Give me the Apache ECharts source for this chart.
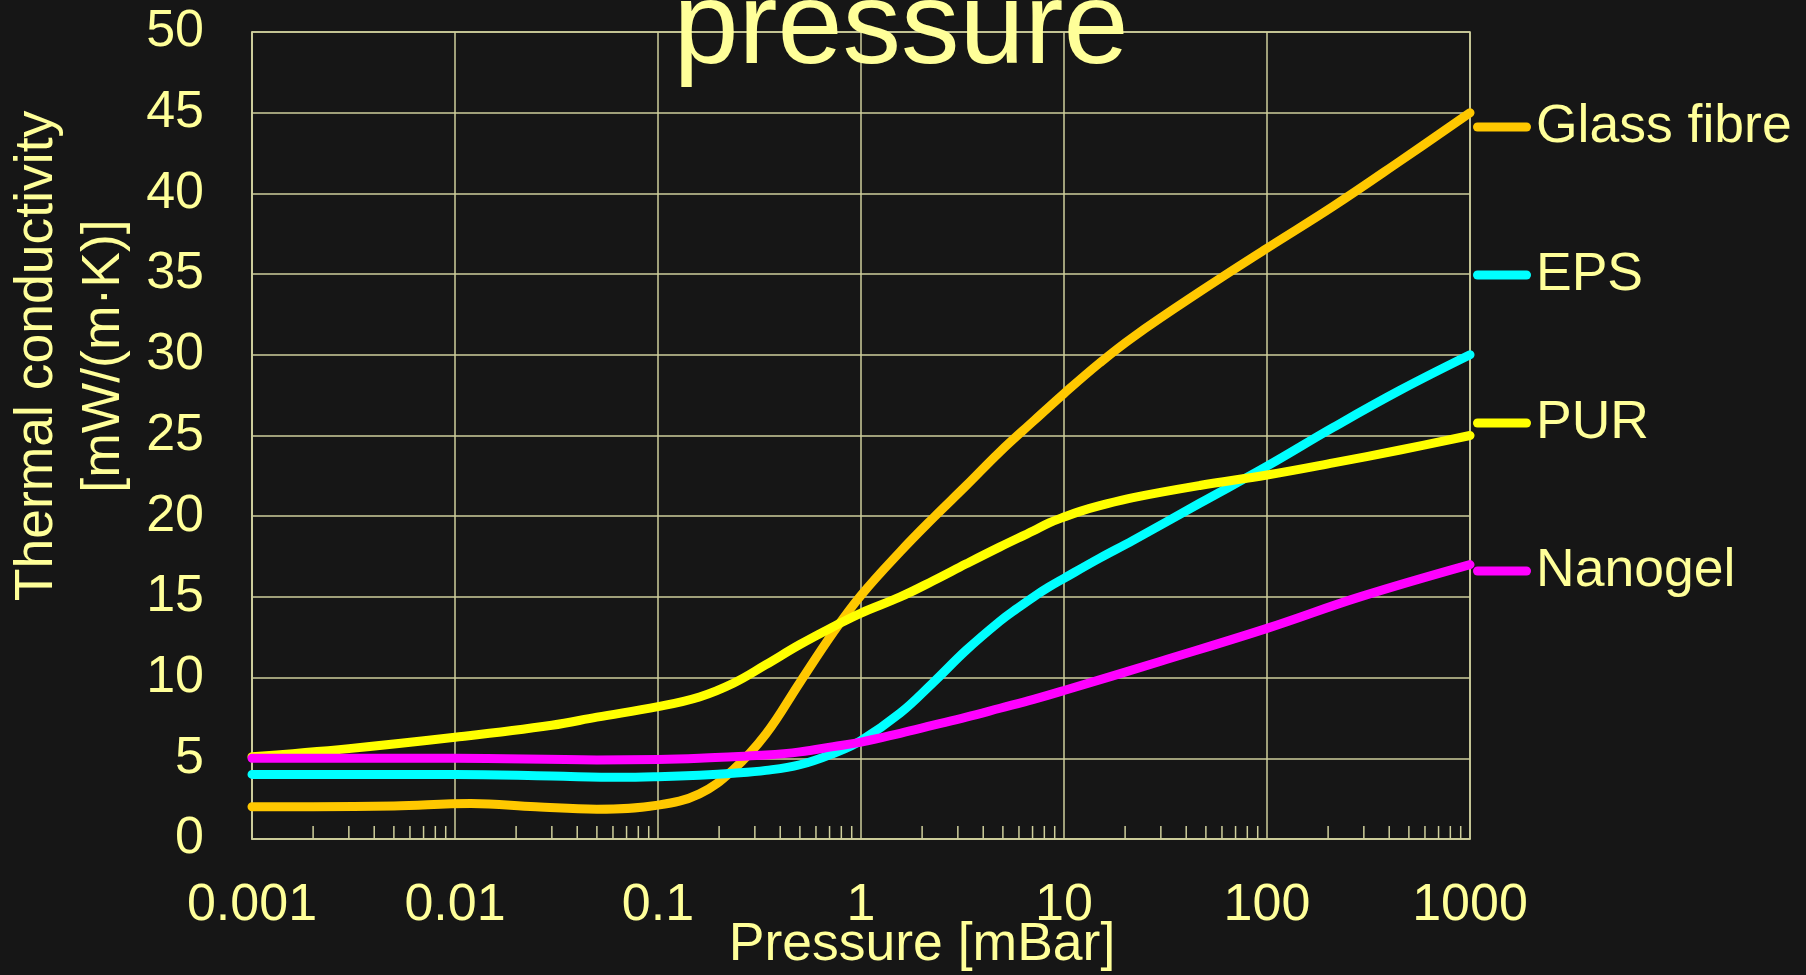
<!DOCTYPE html>
<html>
<head>
<meta charset="utf-8">
<script src="https://cdn.jsdelivr.net/npm/echarts@6/dist/echarts.min.js"></script>
<style>
html,body{margin:0;padding:0;background:#161616;}
#chart{width:1806px;height:975px;}
</style>
</head>
<body>
<div id="chart"></div>
<script>
// ---- data ----
const seriesNames = ['Glass fibre', 'EPS', 'PUR', 'Nanogel'];
const seriesColors = ['#ffc800', '#00ffff', '#ffff00', '#ff00ff'];

const glassP = [0.001, 0.002, 0.005, 0.012, 0.025, 0.05, 0.1, 0.16, 0.235, 0.34, 0.5, 0.73, 1, 1.56, 2.27, 3.3, 4.84, 7.08, 10, 15, 21.9, 46.6, 100, 212, 452, 1000];
const glassK = [2.0, 2.0, 2.05, 2.2, 2.0, 1.85, 2.1, 2.8, 4.3, 6.5, 9.7, 12.8, 15.1, 17.8, 19.9, 21.9, 24.0, 25.9, 27.6, 29.5, 31.1, 33.9, 36.6, 39.2, 42.0, 45.0];

const epsP = [0.001, 0.01, 0.03, 0.065, 0.1, 0.16, 0.235, 0.34, 0.5, 0.73, 1, 1.56, 2.27, 3.3, 4.84, 5.9, 7.08, 8.4, 10, 15, 21.9, 46.6, 100, 212, 452, 1000];
const epsK = [4.0, 4.0, 3.9, 3.82, 3.86, 3.95, 4.07, 4.25, 4.6, 5.3, 6.1, 7.8, 9.7, 11.7, 13.5, 14.3, 15.0, 15.6, 16.15, 17.4, 18.5, 20.8, 23.1, 25.5, 27.8, 30.0];

const purP = [0.001, 0.003, 0.01, 0.03, 0.05, 0.1, 0.16, 0.235, 0.34, 0.5, 0.73, 1, 1.56, 2.27, 3.3, 4.84, 7.08, 8.5, 10, 12, 15, 21.9, 46.6, 100, 212, 452, 1000];
const purK = [5.1, 5.6, 6.3, 7.05, 7.55, 8.2, 8.8, 9.65, 10.8, 12.05, 13.15, 14.0, 15.0, 16.0, 17.05, 18.1, 19.1, 19.6, 19.95, 20.3, 20.65, 21.15, 21.9, 22.55, 23.3, 24.1, 25.0];

const nanoP = [0.001, 0.01, 0.05, 0.1, 0.16, 0.235, 0.34, 0.5, 0.73, 1, 1.56, 2.27, 3.3, 4.84, 7.08, 10, 29.7, 100, 287, 1000];
const nanoK = [5.0, 5.0, 4.9, 4.93, 5.0, 5.1, 5.2, 5.4, 5.72, 6.0, 6.55, 7.05, 7.55, 8.1, 8.65, 9.2, 11.0, 13.05, 15.0, 17.0];

const xTickLabels = ['0.001', '0.01', '0.1', '1', '10', '100', '1000'];
const yTickLabels = ['0', '5', '10', '15', '20', '25', '30', '35', '40', '45', '50'];

const titleText = 'pressure';
const xAxisTitle = 'Pressure [mBar]';
const yAxisTitle = 'Thermal conductivity\n[mW/(m·K)]';

// ---- build ----
const pairs = [[glassP, glassK], [epsP, epsK], [purP, purK], [nanoP, nanoK]];
const TEXT = '#ffff99';
const GRIDC = '#cfcf9c';
const FONT = '"Liberation Sans", Arial, sans-serif';

// minor log ticks (2..9 within each decade)
const minorTicks = [];
for (let e = -3; e < 3; e++) {
  for (let k = 2; k <= 9; k++) minorTicks.push([k * Math.pow(10, e), 0]);
}

const lineSeries = seriesNames.map((name, i) => ({
  name: name,
  type: 'line',
  data: pairs[i][0].map((p, j) => [p, pairs[i][1][j]]),
  symbol: 'none',
  smooth: 0.4,
  lineStyle: { color: seriesColors[i], width: 9, cap: 'round', join: 'round' },
  itemStyle: { color: seriesColors[i] },
  z: 3 + i,
  silent: true
}));

const tickSeries = {
  type: 'custom',
  name: 'minorTicks',
  data: minorTicks,
  silent: true,
  z: 2,
  renderItem: function (params, api) {
    const pt = api.coord([api.value(0), api.value(1)]);
    return {
      type: 'line',
      shape: { x1: pt[0], y1: pt[1], x2: pt[0], y2: pt[1] - 13 },
      style: { stroke: GRIDC, lineWidth: 1.5 }
    };
  }
};

const chart = echarts.init(document.getElementById('chart'), null, { renderer: 'canvas' });
chart.setOption({
  backgroundColor: '#161616',
  animation: false,
  textStyle: { fontFamily: FONT },
  grid: {
    left: 252, right: 1806 - 1470, top: 32, bottom: 975 - 839,
    show: true, borderColor: GRIDC, borderWidth: 1.5, containLabel: false
  },
  legend: {
    data: seriesNames,
    orient: 'vertical',
    left: 1473,
    top: 100,
    padding: 0,
    itemGap: 94,
    itemWidth: 58,
    itemHeight: 9,
    icon: 'path://M4.5,0H53.5A4.5,4.5 0 0 1 53.5,9H4.5A4.5,4.5 0 0 1 4.5,0Z',
    selectedMode: false,
    textStyle: { color: TEXT, fontSize: 53.5, lineHeight: 52, fontFamily: FONT }
  },
  xAxis: {
    type: 'log',
    logBase: 10,
    min: 0.001,
    max: 1000,
    interval: 1,
    axisLine: { show: true, lineStyle: { color: GRIDC, width: 1.5 } },
    axisTick: { show: false },
    splitLine: { show: true, lineStyle: { color: GRIDC, width: 1.5 } },
    axisLabel: {
      color: TEXT, fontSize: 52, margin: 41, fontFamily: FONT,
      formatter: function (v) {
        for (const l of xTickLabels) {
          if (Math.abs(Math.log10(v) - Math.log10(parseFloat(l))) < 1e-6) return l;
        }
        return '';
      }
    }
  },
  yAxis: {
    type: 'value',
    min: 0,
    max: 50,
    interval: 5,
    axisLine: { show: true, lineStyle: { color: GRIDC, width: 1.5 } },
    axisTick: { show: false },
    splitLine: { show: true, lineStyle: { color: GRIDC, width: 1.5 } },
    axisLabel: {
      color: TEXT, fontSize: 52, margin: 48, fontFamily: FONT,
      formatter: function (v) { return yTickLabels[Math.round(v / 5)]; }
    }
  },
  graphic: [
    {
      type: 'text', x: 901, y: 31, z: 100,
      style: { text: titleText, fill: TEXT, font: '117px ' + FONT, textAlign: 'center', textVerticalAlign: 'middle' }
    },
    {
      type: 'text', x: 922, y: 945, z: 100,
      style: { text: xAxisTitle, fill: TEXT, font: '53.5px ' + FONT, textAlign: 'center', textVerticalAlign: 'middle' }
    },
    {
      type: 'text', x: 71, y: 356, rotation: Math.PI / 2, z: 100,
      style: { text: yAxisTitle, fill: TEXT, font: '53.5px ' + FONT, lineHeight: 67, textAlign: 'center', textVerticalAlign: 'middle' }
    }
  ],
  series: lineSeries.concat([tickSeries])
});
</script>
</body>
</html>
